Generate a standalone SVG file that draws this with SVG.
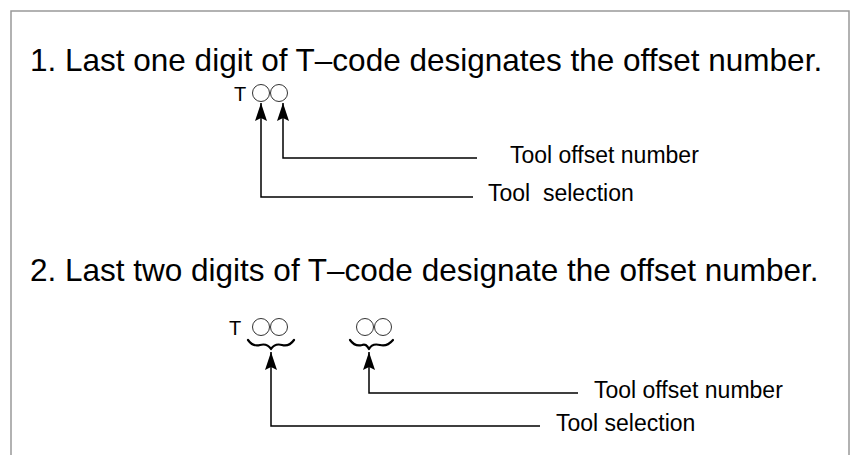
<svg xmlns="http://www.w3.org/2000/svg" width="850" height="455" viewBox="0 0 850 455">
<defs>
<style>
text{font-family:"Liberation Sans",Arial,Helvetica,sans-serif;fill:#000;white-space:pre}
.h{font-size:31.5px}
.l{font-size:23px}
.t{font-size:20px}
.c{fill:none;stroke:#333;stroke-width:1}
.ln{fill:none;stroke:#000;stroke-width:1.5}
.br{fill:none;stroke:#000;stroke-width:2.2;stroke-linejoin:round;stroke-linecap:round}
.fr{fill:none;stroke:#999;stroke-width:1.5}
</style>
<marker id="ah" markerUnits="userSpaceOnUse" markerWidth="18" markerHeight="12" viewBox="0 0 18 12" refX="18" refY="6" orient="auto-start-reverse">
<path d="M18,6 L0,0 L3,6 L0,12 Z" fill="#000"/>
</marker>
</defs>
<rect width="850" height="455" fill="#fff"/>
<path class="fr" d="M11,455 V11 H849 V455"/>

<g id="heading1"><text class="h" x="30" y="71">1. Last one digit of T–code designates the offset number.</text></g>
<g id="code1">
<text class="t" x="234" y="101">T</text>
<circle class="c" cx="261" cy="93" r="8.5"/>
<circle class="c" cx="279" cy="93" r="8.5"/>
</g>
<g id="label1a"><text class="l" x="510" y="163">Tool offset number</text></g>
<g id="label1b"><text class="l" x="488" y="201" xml:space="preserve">Tool  selection</text></g>

<g id="heading2"><text class="h" x="30" y="281">2. Last two digits of T–code designate the offset number.</text></g>
<g id="code2">
<text class="t" x="229" y="335">T</text>
<circle class="c" cx="261" cy="327" r="8.5"/>
<circle class="c" cx="279" cy="327" r="8.5"/>
<circle class="c" cx="365" cy="327" r="8.5"/>
<circle class="c" cx="383" cy="327" r="8.5"/>
<path class="br" d="M248,340 Q253,347 260,345 Q267,343 271,349 Q275,343 282,345 Q289,347 294,340"/>
<path class="br" d="M350,340 Q355,347 362,345 Q366,343 369,349 Q372,343 380,345 Q387,347 393,340"/>
</g>
<g id="label2a"><text class="l" x="594" y="398">Tool offset number</text></g>
<g id="label2b"><text class="l" x="556" y="431">Tool selection</text></g>

<g id="connectors">
<path class="ln" marker-start="url(#ah)" d="M283,103 V158 H477"/>
<path class="ln" marker-start="url(#ah)" d="M261,103 V197 H473"/>
<path class="ln" marker-start="url(#ah)" d="M369,352 V393 H578"/>
<path class="ln" marker-start="url(#ah)" d="M271,352 V426 H540"/>
</g>
</svg>
